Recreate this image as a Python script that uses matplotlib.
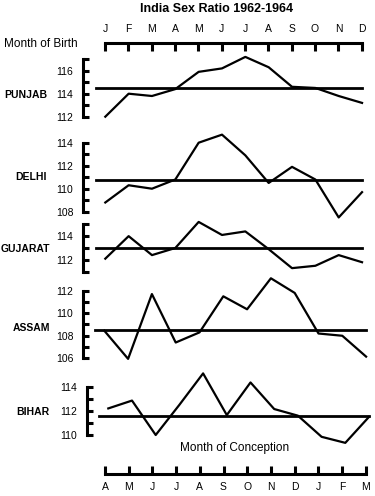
import matplotlib
matplotlib.use("Agg")
import matplotlib.pyplot as plt

plt.rcParams['font.family'] = ['Liberation Sans', 'DejaVu Sans']

# data (sex ratio, males per 100 females)
birth_months = ["J", "F", "M", "A", "M", "J", "J", "A", "S", "O", "N", "D"]
conception_months = ["A", "M", "J", "J", "A", "S", "O", "N", "D", "J", "F", "M"]

states = ["PUNJAB", "DELHI", "GUJARAT", "ASSAM", "BIHAR"]
punjab = [112.0, 114.0, 113.8, 114.4, 115.9, 116.2, 117.2, 116.3, 114.6, 114.5, 113.8, 113.2]
delhi = [108.8, 110.3, 110.0, 110.8, 114.0, 114.7, 112.9, 110.5, 111.9, 110.8, 107.5, 109.7]
gujarat = [112.1, 114.0, 112.4, 113.0, 115.2, 114.1, 114.4, 112.9, 111.3, 111.5, 112.4, 111.8]
assam = [108.45, 105.95, 111.7, 107.4, 108.3, 111.5, 110.35, 113.1, 111.8, 108.2, 108.0, 106.15]
bihar = [112.2, 112.85, 110.0, 112.5, 115.1, 111.65, 114.35, 112.15, 111.6, 109.85, 109.35, 111.5]
means = [114.5, 110.8, 113.0, 108.5, 111.6]
axis_ranges = [(112, 117), (108, 114), (111, 115), (106, 112), (110, 114)]

W, H = 375, 496
fig = plt.figure(figsize=(W / 100, H / 100), dpi=100)


def box(l, t, r, b):
    return [l / W, 1 - b / H, (r - l) / W, (b - t) / H]


# layout in pixels: spine x, first month x, month step, ref value, its y, px per unit, box top/bottom, label x,y
layout = [
    (83, 105.3, 23.34, 112, 116.7, 11.5, 50, 125, 47, 95),
    (83, 105.3, 23.34, 108, 211.7, 11.5, 128, 222, 47, 177),
    (83, 105.3, 23.34, 111, 271.7, 11.85, 218, 280, 50, 249),
    (83, 104.3, 23.8, 106, 358.3, 11.27, 275, 365, 50, 328),
    (87, 108.3, 23.7, 110, 435.0, 12.08, 368, 445, 49, 412),
]
series = [punjab, delhi, gujarat, assam, bihar]
R = 372

for name, vals, mean, (lo, hi), lay in zip(states, series, means, axis_ranges, layout):
    sx, x0, dx, v0, p0, s, top, bot, lx, ly = lay
    ax = fig.add_axes(box(sx, top, R, bot))
    ax.patch.set_alpha(0)
    ax.set_xlim((sx - x0) / dx, (R - x0) / dx)
    ax.set_ylim(v0 - (bot - p0) / s, v0 + (p0 - top) / s)
    ax.plot(range(12), vals, color="black", lw=1.6, clip_on=False)
    ax.plot([-0.4, 11], [mean, mean], color="black", lw=2.0, clip_on=False)
    for sp in ["top", "right", "bottom"]:
        ax.spines[sp].set_visible(False)
    ax.spines["left"].set_linewidth(2.2)
    ax.spines["left"].set_bounds(lo, hi)
    ax.spines["left"].set_capstyle("projecting")
    ax.set_xticks([])
    ticks = list(range(lo, hi + 1))
    ax.set_yticks(ticks)
    ax.set_yticklabels([str(t) if t % 2 == 0 else "" for t in ticks])
    ax.tick_params(axis="y", direction="in", length=4.5, width=2.2, pad=7, labelsize=7.5)
    fig.text(lx / W, 1 - ly / H, name, ha="right", va="center",
             fontsize=7.5, fontweight="bold")

# top axis: month of birth
axt = fig.add_axes(box(81, 42.7, R, 60))
axt.patch.set_alpha(0)
axt.set_xlim((81 - 105) / 23.34, (R - 105) / 23.34)
for sp in ["left", "right", "bottom"]:
    axt.spines[sp].set_visible(False)
axt.spines["top"].set_linewidth(2.2)
axt.spines["top"].set_bounds(0, 11)
axt.set_yticks([])
axt.xaxis.tick_top()
axt.set_xticks(range(12))
axt.set_xticklabels(birth_months)
axt.tick_params(axis="x", direction="in", length=5.5, width=2.2, pad=6, labelsize=7.5)

# bottom axis: month of conception
axb = fig.add_axes(box(81, 440, R, 474))
axb.patch.set_alpha(0)
axb.set_xlim((81 - 105) / 23.7, (R - 105) / 23.7)
for sp in ["left", "right", "top"]:
    axb.spines[sp].set_visible(False)
axb.spines["bottom"].set_linewidth(2.2)
axb.spines["bottom"].set_bounds(0, 11)
axb.set_yticks([])
axb.set_xticks(range(12))
axb.set_xticklabels(conception_months)
axb.tick_params(axis="x", direction="in", length=5.5, width=2.2, pad=6, labelsize=7.5)

fig.text(216.7 / W, 1 - 8.5 / H, "India Sex Ratio 1962-1964", ha="center", va="center",
         fontsize=9, fontweight="bold")
fig.text(4 / W, 1 - 44 / H, "Month of Birth", ha="left", va="center", fontsize=8.5)
fig.text(235 / W, 1 - 448 / H, "Month of Conception", ha="center", va="center", fontsize=8.5)

fig.savefig("out.png", dpi=100)
